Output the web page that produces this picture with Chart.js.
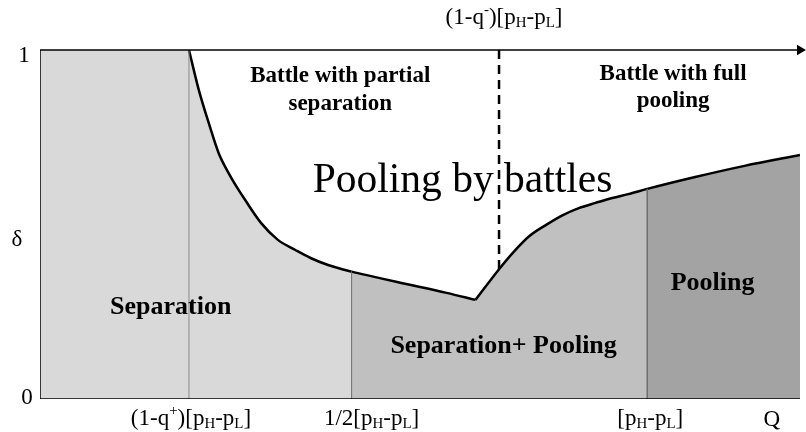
<!DOCTYPE html>
<html>
<head>
<meta charset="utf-8">
<script src="https://cdn.jsdelivr.net/npm/chart.js@4/dist/chart.umd.min.js"></script>
<style>
  body { margin: 0; background: #fff; }
</style>
</head>
<body>
<canvas id="Canvas1" width="806" height="432"></canvas>
<script>
// Q axis runs 0..100, delta axis 0..1
var curveQ     = [19.6, 20.9, 22.2, 23.5, 24.8, 25.9, 27.0, 29.1, 31.3, 33.6, 35.6, 37.9, 41.0, 44.0, 47.0, 53.5, 57.3, 60.4, 62.3, 64.4, 66.6, 68.8, 70.9, 73.1, 75.3, 77.4, 79.9, 86.2, 92.7, 100];
var curveDelta = [1.0, 0.885, 0.791, 0.705, 0.648, 0.607, 0.570, 0.504, 0.456, 0.427, 0.404, 0.384, 0.365, 0.350, 0.335, 0.304, 0.284, 0.372, 0.421, 0.467, 0.499, 0.527, 0.547, 0.562, 0.576, 0.587, 0.602, 0.636, 0.668, 0.699];

var qPlus = 19.6;     // (1-q+)[pH-pL]
var qHalf = 41.0;     // 1/2[pH-pL]
var qKink = 57.3;
var qMinus = 60.4;    // (1-q-)[pH-pL]
var qFull = 79.9;     // [pH-pL]
var qMax = 100;

var regionColors = ['#d9d9d9', '#c0c0c0', '#a3a3a3'];

function curveAt(q) {
    return curveDelta[curveQ.indexOf(q)];
}
function segment(a, b) {
    var pts = [];
    for (var i = 0; i < curveQ.length; i++) {
        if (curveQ[i] >= a && curveQ[i] <= b) pts.push({x: curveQ[i], y: curveDelta[i]});
    }
    return pts;
}
function regionColor(c) {
    var x = c.p0.parsed.x;
    return x < qHalf ? regionColors[0] : (x < qFull ? regionColors[1] : regionColors[2]);
}

function richText(ctx, parts, x, y, size, weight) {
    var w = 0;
    parts.forEach(function (p) {
        var s = p[1] ? size * 0.65 : size;
        ctx.font = weight + ' ' + s + 'px "Liberation Serif"';
        p.w = ctx.measureText(p[0]).width;
        w += p.w;
    });
    var cx = x - w / 2;
    ctx.textAlign = 'left';
    ctx.textBaseline = 'middle';
    parts.forEach(function (p) {
        var s = p[1] ? size * 0.65 : size;
        var dy = p[1] == 'sub' ? size * 0.22 : (p[1] == 'sup' ? -size * 0.35 : 0);
        ctx.font = weight + ' ' + s + 'px "Liberation Serif"';
        ctx.fillText(p[0], cx, y + dy);
        cx += p.w;
    });
}

var pHL = [['[p'], ['H', 'sub'], ['-p'], ['L', 'sub'], [']']];

var textPlugin = {
    id: 'texts',
    afterDraw: function (chart) {
        var ctx = chart.ctx;
        var xs = chart.scales.x, ys = chart.scales.y;
        var X = function (v) { return xs.getPixelForValue(v); };
        var Y = function (v) { return ys.getPixelForValue(v); };
        ctx.save();
        ctx.fillStyle = '#000';
        // axis labels
        richText(ctx, [['1']], X(0) - 16, Y(1) + 6, 23, 'normal');
        richText(ctx, [['0']], X(0) - 13, Y(0) - 1, 23, 'normal');
        richText(ctx, [['δ']], X(0) - 23, Y(0.455), 23, 'normal');
        richText(ctx, [['(1-q'], ['+', 'sup'], [')']].concat(pHL), X(qPlus) + 2, Y(0) + 20, 23, 'normal');
        richText(ctx, [['1/2']].concat(pHL), X(qHalf) + 20, Y(0) + 20, 23, 'normal');
        richText(ctx, pHL, X(qFull) + 3, Y(0) + 20, 23, 'normal');
        richText(ctx, [['Q']], X(96.3), Y(0) + 21, 23, 'normal');
        richText(ctx, [['(1-q'], ['-', 'sup'], [')']].concat(pHL), X(qMinus) + 5, Y(1) - 32, 23, 'normal');
        // region labels
        richText(ctx, [['Battle with partial']], X(39.5), Y(0.925), 23, 'bold');
        richText(ctx, [['separation']], X(39.5), Y(0.845), 23, 'bold');
        richText(ctx, [['Battle with full']], X(83.3), Y(0.932), 23, 'bold');
        richText(ctx, [['pooling']], X(83.3), Y(0.855), 23, 'bold');
        richText(ctx, [['Pooling by battles']], X(55.6), Y(0.625), 41.5, 'normal');
        richText(ctx, [['Separation']], X(17.2), Y(0.263), 26, 'bold');
        richText(ctx, [['Separation+ Pooling']], X(61), Y(0.152), 26, 'bold');
        richText(ctx, [['Pooling']], X(88.5), Y(0.333), 26, 'bold');
        ctx.restore();
    }
};

var lineStyle = {pointRadius: 0, fill: false, showLine: true, tension: 0};
var curveStyle = {pointRadius: 0, showLine: true, borderColor: '#000', borderWidth: 2.5,
    cubicInterpolationMode: 'monotone', fill: 'origin', segment: {backgroundColor: regionColor}};

new Chart(document.getElementById('Canvas1').getContext('2d'), {
    type: 'scatter',
    data: {
        datasets: [
            Object.assign({data: [{x: 0, y: 1}, {x: qMax, y: 1}], borderColor: '#000', borderWidth: 1.5,
                pointRadius: [0, 6], pointStyle: 'triangle', pointRotation: 90, pointBackgroundColor: '#000', pointBorderWidth: 0, clip: false}, {fill: false, showLine: true}),
            Object.assign({data: [{x: 0, y: 0}, {x: qMax, y: 0}], borderColor: '#000', borderWidth: 1.5}, lineStyle),
            Object.assign({data: [{x: 0, y: 0}, {x: 0, y: 1}], borderColor: '#000', borderWidth: 1.5}, lineStyle),
            Object.assign({data: [{x: qMinus, y: 1}, {x: qMinus, y: curveAt(qMinus)}], borderColor: '#000', borderWidth: 2.5, borderDash: [9, 6]}, lineStyle),
            Object.assign({data: [{x: qPlus, y: 0}, {x: qPlus, y: 1}], borderColor: '#8a8a8a', borderWidth: 1}, lineStyle),
            Object.assign({data: [{x: qHalf, y: 0}, {x: qHalf, y: curveAt(qHalf)}], borderColor: '#6e6e6e', borderWidth: 1}, lineStyle),
            Object.assign({data: [{x: qFull, y: 0}, {x: qFull, y: curveAt(qFull)}], borderColor: '#6e6e6e', borderWidth: 1.5}, lineStyle),
            Object.assign({data: segment(qPlus, qKink)}, curveStyle),
            Object.assign({data: segment(qKink, qMax)}, curveStyle),
            // hides the join between the two fills below the kink
            Object.assign({data: [{x: qKink, y: 0}, {x: qKink, y: curveAt(qKink)}], borderColor: regionColors[1], borderWidth: 2}, lineStyle),
            {data: [{x: 0, y: 1}, {x: qPlus, y: 1}], showLine: true, borderWidth: 0, pointRadius: 0, fill: 'origin', backgroundColor: regionColors[0]}
        ]
    },
    options: {
        responsive: false,
        animation: false,
        layout: {padding: {left: 40, top: 50, right: 0, bottom: 33}},
        scales: {
            x: {type: 'linear', min: 0, max: qMax, display: false},
            y: {min: 0, max: 1, display: false}
        },
        plugins: {legend: {display: false}, tooltip: {enabled: false}}
    },
    plugins: [textPlugin]
});
</script>
</body>
</html>
